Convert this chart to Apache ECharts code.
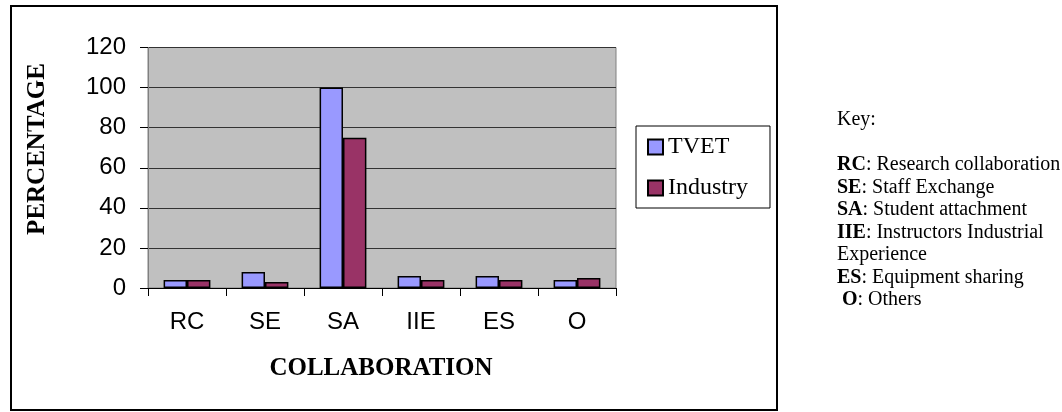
<!DOCTYPE html>
<html>
<head>
<meta charset="utf-8">
<script src="https://cdn.jsdelivr.net/npm/echarts@6/dist/echarts.min.js"></script>
<style>
html,body{margin:0;padding:0;background:#fff;}
#c{width:1062px;height:412px;}
</style>
</head>
<body>
<div id="c"></div>
<script>
var categories = ['RC', 'SE', 'SA', 'IIE', 'ES', 'O'];
var tvet = [4, 8, 100, 6, 6, 4];
var industry = [4, 3, 75, 4, 4, 5];
var seriesNames = ['TVET', 'Industry'];
var xTitle = 'COLLABORATION';
var yTitle = 'PERCENTAGE';
var keyLines = [
  ['', 'Key:'],
  ['', ''],
  ['RC', ': Research collaboration'],
  ['SE', ': Staff Exchange'],
  ['SA', ': Student attachment'],
  ['IIE', ': Instructors Industrial'],
  ['', 'Experience'],
  ['ES', ': Equipment sharing'],
  [' O', ': Others']
];

var serif = '"Liberation Serif", "Times New Roman", serif';
var sans = '"Liberation Sans", Arial, sans-serif';
var keyText = keyLines.map(function (l) {
  var s = '';
  if (l[0]) s += '{b|' + l[0] + '}';
  s += '{n|' + (l[1] || ' ') + '}';
  return s;
}).join('\n');

var chart = echarts.init(document.getElementById('c'));
chart.setOption({
  backgroundColor: '#fff',
  animation: false,
  grid: {
    left: 148, right: 446, top: 47.5, bottom: 124,
    show: true, backgroundColor: '#C0C0C0', borderColor: '#808080', borderWidth: 1
  },
  legend: {
    orient: 'vertical',
    left: 636, top: 126,
    padding: [9, 22, 8, 11],
    itemGap: 17,
    itemWidth: 15, itemHeight: 15,
    borderColor: '#000', borderWidth: 1,
    icon: 'rect',
    textStyle: { fontFamily: serif, fontSize: 24, color: '#000' },
    data: seriesNames
  },
  xAxis: {
    type: 'category',
    data: categories,
    axisLine: { show: true, lineStyle: { color: '#000', width: 1 } },
    axisTick: { show: true, length: 8, interval: 0, lineStyle: { color: '#000' } },
    axisLabel: { fontFamily: sans, fontSize: 24, color: '#000', margin: 22 },
    splitLine: { show: false }
  },
  yAxis: {
    type: 'value',
    min: 0, max: 120, interval: 20,
    axisLine: { show: true, lineStyle: { color: '#808080', width: 1 } },
    axisTick: { show: true, length: 8, lineStyle: { color: '#000' } },
    axisLabel: { fontFamily: sans, fontSize: 24, color: '#000', margin: 22 },
    splitLine: { show: true, lineStyle: { color: '#333', width: 1 } }
  },
  series: [
    {
      name: seriesNames[0], type: 'bar', data: tvet,
      barGap: '0%', barCategoryGap: '40%',
      itemStyle: { color: '#9999FF', borderColor: '#000', borderWidth: 1.5 }
    },
    {
      name: seriesNames[1], type: 'bar', data: industry,
      barGap: '0%', barCategoryGap: '40%',
      itemStyle: { color: '#993366', borderColor: '#000', borderWidth: 1.5 }
    }
  ],
  graphic: [
    {
      type: 'rect', silent: true, z: 100,
      shape: { x: 11, y: 6, width: 766, height: 404 },
      style: { fill: 'none', stroke: '#000', lineWidth: 2 }
    },
    {
      type: 'text', x: 381, y: 369,
      style: {
        text: xTitle, font: 'bold 25px ' + serif, fill: '#000',
        align: 'center', verticalAlign: 'middle'
      }
    },
    {
      type: 'text', x: 38, y: 149, rotation: Math.PI / 2,
      style: {
        text: yTitle, font: 'bold 25px ' + serif, fill: '#000',
        align: 'center', verticalAlign: 'middle'
      }
    },
    {
      type: 'text', x: 837, y: 108.75,
      style: {
        text: keyText,
        fontFamily: serif, fontSize: 20, lineHeight: 22.5, fill: '#000',
        align: 'left', verticalAlign: 'top',
        rich: {
          b: { fontFamily: serif, fontSize: 20, fontWeight: 'bold', lineHeight: 22.5, fill: '#000' },
          n: { fontFamily: serif, fontSize: 20, lineHeight: 22.5, fill: '#000' }
        }
      }
    }
  ]
});
</script>
</body>
</html>
